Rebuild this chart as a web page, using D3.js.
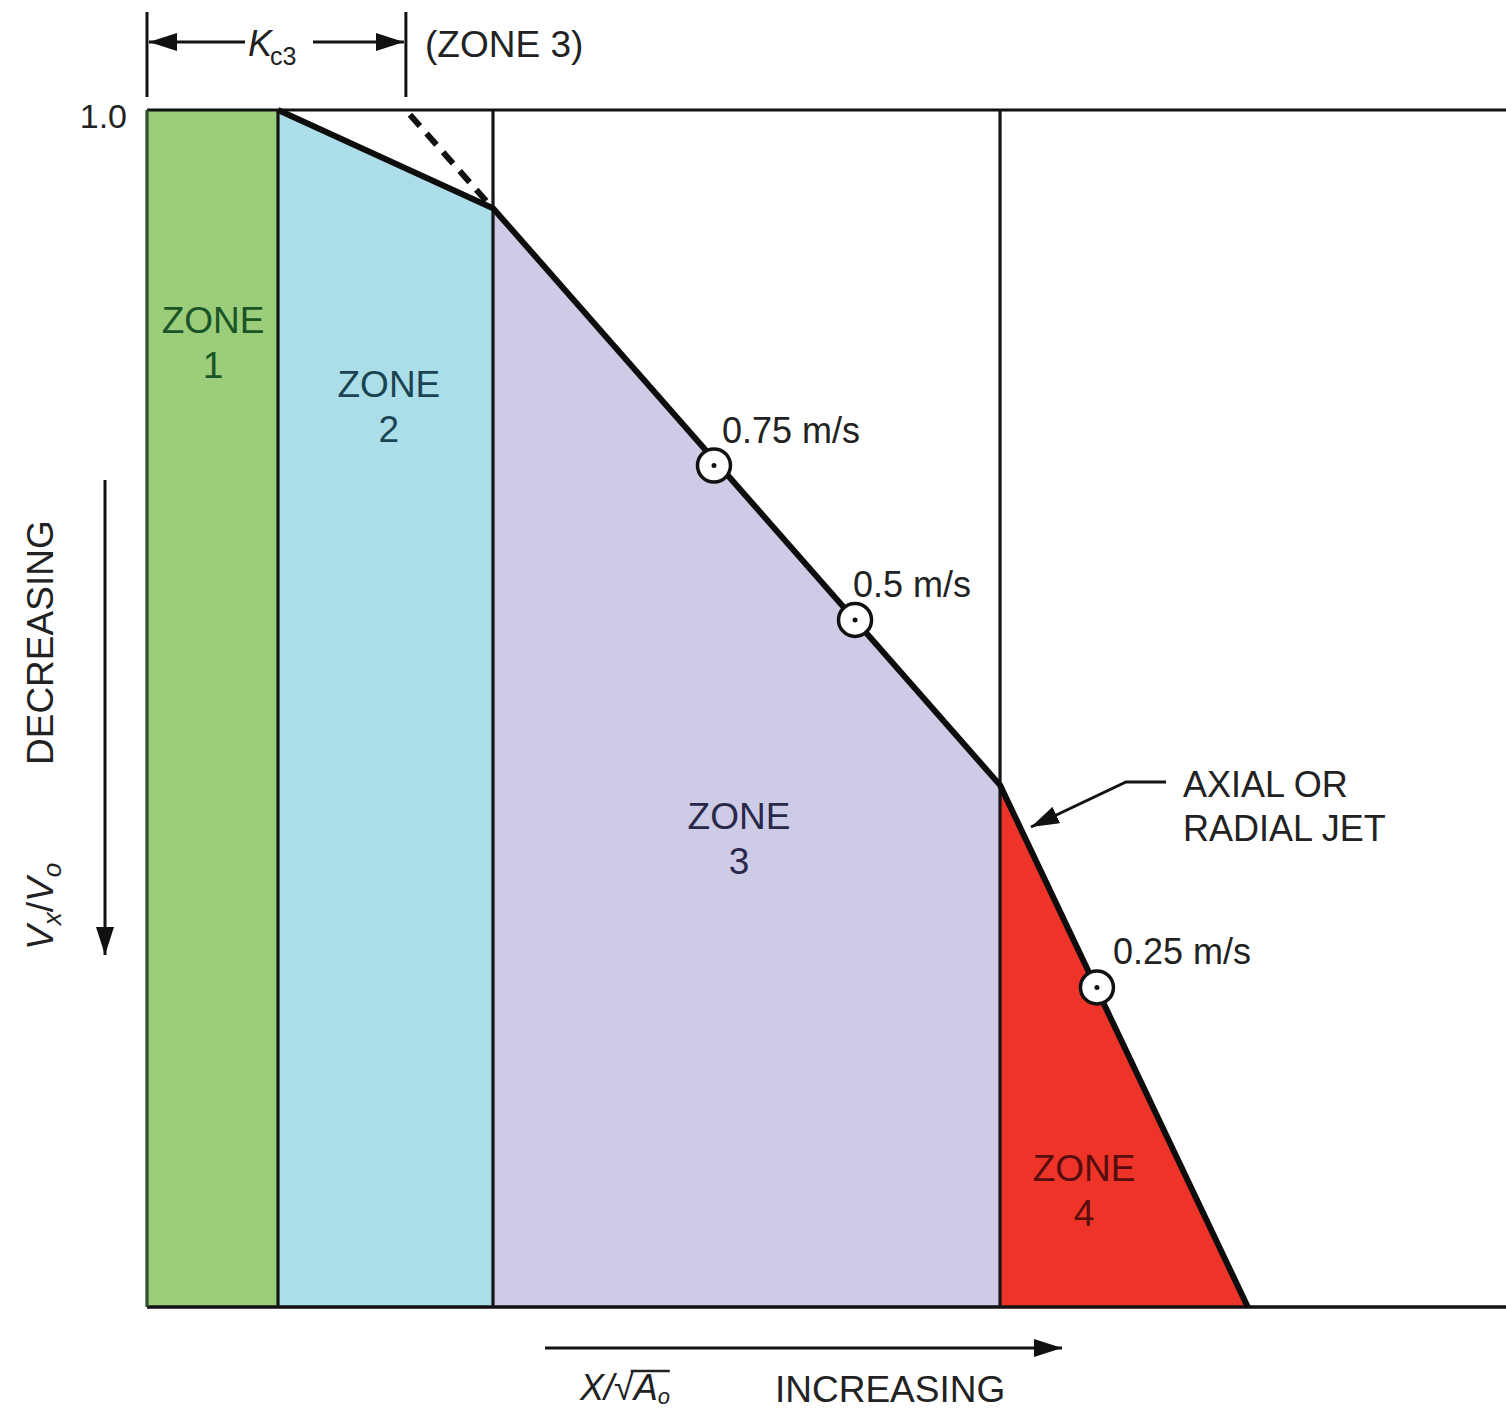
<!DOCTYPE html>
<html>
<head>
<meta charset="utf-8">
<script src="https://cdn.jsdelivr.net/npm/d3@7"></script>
<style>
  body { margin: 0; background: #fff; }
  svg text { font-family: "Liberation Sans", Arial, sans-serif; fill: #222; }
  .zone-label { font-size: 37px; text-anchor: middle; }
  .note { font-size: 36px; }
</style>
</head>
<body>
<svg width="1506" height="1415"></svg>
<script>
// zone boundaries along X/sqrt(Ao) (arbitrary units, 0..100)
const zoneEdges = [0, 9.64, 25.46, 62.77, 81.0];
const zoneNames = ['1', '2', '3', '4'];
const zoneFills = ['#9bcd7b', '#acdeea', '#cdcbe6', '#ee3428'];
const zoneText = ['#1a5528', '#1a4452', '#28284a', '#550d0d'];
// where the zone names sit (x, Vx/Vo of first line)
const zoneLabelX = [4.86, 17.8, 43.56, 68.95];
const zoneLabelY = [0.814, 0.760, 0.399, 0.105];

// centreline velocity decay Vx/Vo
const curveX = [9.64, 25.46, 62.77, 81.0];
const curveY = [1.0, 0.918, 0.436, 0];

// dashed extension of zone 3 line
const dashX = [19.35, 25.2];
const dashY = [0.996, 0.921];

// marked velocities
const markerX = [41.72, 52.1, 69.9];
const markerY = [0.703, 0.574, 0.267];
const markerLabels = ['0.75 m/s', '0.5 m/s', '0.25 m/s'];

const yTicks = [1.0];

const svg = d3.select('svg');
const margin = { left: 147, top: 110 };
const width = 1506 - margin.left;
const height = 1197;

const xScale = d3.scaleLinear().domain([0, 100]).range([0, width]);
const yScale = d3.scaleLinear().domain([0, 1]).range([height, 0]);
const topAt = d3.scaleLinear().domain(curveX).range(curveY).clamp(true);

const defs = svg.append('defs');
defs.append('marker')
  .attr('id', 'head')
  .attr('viewBox', '0 0 10 10')
  .attr('preserveAspectRatio', 'none')
  .attr('refX', 10).attr('refY', 5)
  .attr('markerWidth', 28).attr('markerHeight', 18)
  .attr('markerUnits', 'userSpaceOnUse')
  .attr('orient', 'auto-start-reverse')
  .append('path')
  .attr('d', 'M0,0 L10,5 L0,10 Z')
  .attr('fill', '#111');

const chart = svg.append('g')
  .attr('transform', `translate(${margin.left}, ${margin.top})`);

// zone fills
const zones = zoneNames.map((n, i) => ({ name: n, x0: zoneEdges[i], x1: zoneEdges[i + 1], i }));
chart.selectAll('.zone')
  .data(zones)
  .enter()
  .append('polygon')
  .attr('class', 'zone')
  .attr('fill', (d) => zoneFills[d.i])
  .attr('points', (d) => [
    [xScale(d.x0), yScale(0)],
    [xScale(d.x0), yScale(topAt(d.x0))],
    [xScale(d.x1), yScale(topAt(d.x1))],
    [xScale(d.x1), yScale(0)]
  ].map((p) => p.join(',')).join(' '));

// frame lines
chart.append('line')
  .attr('x1', 0).attr('x2', width)
  .attr('y1', yScale(1)).attr('y2', yScale(1))
  .attr('stroke', '#111').attr('stroke-width', 3);
chart.append('line')
  .attr('x1', 0).attr('x2', width)
  .attr('y1', yScale(0)).attr('y2', yScale(0))
  .attr('stroke', '#111').attr('stroke-width', 3.5);

// zone dividers
chart.selectAll('.divider')
  .data(zoneEdges.slice(0, 4))
  .enter()
  .append('line')
  .attr('class', 'divider')
  .attr('x1', (d) => xScale(d)).attr('x2', (d) => xScale(d))
  .attr('y1', yScale(1)).attr('y2', yScale(0))
  .attr('stroke', (d, i) => i === 0 ? '#2f4f2f' : '#151515')
  .attr('stroke-width', 3.2);

// y axis (only 1.0)
chart.append('g')
  .call(d3.axisLeft(yScale).tickValues(yTicks).tickSize(0).tickPadding(20).tickFormat(d3.format('.1f')))
  .call((g) => g.select('.domain').remove())
  .selectAll('text')
  .attr('font-size', 34)
  .attr('dy', '0.5em')
  .attr('font-family', '"Liberation Sans", Arial, sans-serif')
  .attr('fill', '#444');

// dashed extension
chart.append('line')
  .attr('x1', xScale(dashX[0])).attr('y1', yScale(dashY[0]))
  .attr('x2', xScale(dashX[1])).attr('y2', yScale(dashY[1]))
  .attr('stroke', '#111').attr('stroke-width', 6)
  .attr('stroke-dasharray', '15,10');

// main curve
const line = d3.line().x((d) => xScale(d[0])).y((d) => yScale(d[1]));
chart.append('path')
  .datum(curveX.map((x, i) => [x, curveY[i]]))
  .attr('d', line)
  .attr('fill', 'none')
  .attr('stroke', '#0d0d0d')
  .attr('stroke-width', 6)
  .attr('stroke-linejoin', 'round');

// zone labels
const zl = chart.selectAll('.zone-label')
  .data(zones)
  .enter()
  .append('text')
  .attr('class', 'zone-label')
  .attr('x', (d) => xScale(zoneLabelX[d.i]))
  .attr('y', (d) => yScale(zoneLabelY[d.i]))
  .style('fill', (d) => zoneText[d.i]);
zl.append('tspan').text('ZONE');
zl.append('tspan')
  .attr('x', (d) => xScale(zoneLabelX[d.i]))
  .attr('dy', 45)
  .text((d) => d.name);

// velocity markers
const labelDx = [8, -2, 16];
const marks = chart.selectAll('.mark')
  .data(markerX.map((x, i) => ({ x, y: markerY[i], label: markerLabels[i], i })))
  .enter()
  .append('g')
  .attr('class', 'mark')
  .attr('transform', (d) => `translate(${xScale(d.x)}, ${yScale(d.y)})`);
marks.append('circle').attr('r', 16.5).attr('fill', '#fff').attr('stroke', '#111').attr('stroke-width', 3.5);
marks.append('circle').attr('r', 2.5).attr('fill', '#111');
marks.append('text')
  .attr('class', 'note')
  .attr('x', (d) => labelDx[d.i]).attr('y', -23)
  .text((d) => d.label);

// annotation: axial or radial jet
svg.append('path')
  .attr('d', 'M1166,782 L1126,782 L1031,827')
  .attr('fill', 'none')
  .attr('stroke', '#111')
  .attr('stroke-width', 3)
  .attr('marker-end', 'url(#head)');
const ann = svg.append('text').attr('class', 'note').attr('x', 1183).attr('y', 797);
ann.append('tspan').text('AXIAL OR');
ann.append('tspan').attr('x', 1183).attr('dy', 44).text('RADIAL JET');

// Kc3 dimension at top
const dimX0 = xScale(0) + margin.left;
const dimX1 = xScale(19.05) + margin.left;
[dimX0, dimX1].forEach((x) => {
  svg.append('line').attr('x1', x).attr('x2', x).attr('y1', 12).attr('y2', 97)
    .attr('stroke', '#111').attr('stroke-width', 3);
});
svg.append('line').attr('x1', dimX0 + 2).attr('x2', 245).attr('y1', 42).attr('y2', 42)
  .attr('stroke', '#111').attr('stroke-width', 3).attr('marker-start', 'url(#head)');
svg.append('line').attr('x1', 313).attr('x2', dimX1 - 2).attr('y1', 42).attr('y2', 42)
  .attr('stroke', '#111').attr('stroke-width', 3).attr('marker-end', 'url(#head)');
const kc = svg.append('text').attr('x', 248).attr('y', 56).attr('font-size', 36);
kc.append('tspan').attr('font-style', 'italic').text('K');
kc.append('tspan').attr('font-size', 25).attr('dy', 9).attr('dx', -2).text('c3');
svg.append('text').attr('x', 425).attr('y', 57).attr('font-size', 37).text('(ZONE 3)');

// y label (rotated)
svg.append('text')
  .attr('transform', 'translate(53, 765) rotate(-90)')
  .attr('font-size', 37)
  .text('DECREASING');
const vy = svg.append('text')
  .attr('transform', 'translate(53, 950) rotate(-90)')
  .attr('font-size', 37);
vy.append('tspan').attr('font-style', 'italic').text('V');
vy.append('tspan').attr('font-style', 'italic').attr('font-size', 26).attr('dy', 8).text('x');
vy.append('tspan').attr('dy', -8).text('/');
vy.append('tspan').attr('font-style', 'italic').text('V');
vy.append('tspan').attr('font-style', 'italic').attr('font-size', 26).attr('dy', 8).text('o');
svg.append('line').attr('x1', 105).attr('x2', 105).attr('y1', 480).attr('y2', 955)
  .attr('stroke', '#111').attr('stroke-width', 3).attr('marker-end', 'url(#head)');

// x label
svg.append('line').attr('x1', 545).attr('x2', 1062).attr('y1', 1348).attr('y2', 1348)
  .attr('stroke', '#111').attr('stroke-width', 3).attr('marker-end', 'url(#head)');
const xl = svg.append('text').attr('x', 580).attr('y', 1400).attr('font-size', 36);
xl.append('tspan').attr('font-style', 'italic').text('X/');
xl.append('tspan').text('\u221A');
const aSpan = xl.append('tspan').attr('font-style', 'italic').text('A');
xl.append('tspan').attr('font-style', 'italic').attr('font-size', 22).attr('dy', 4).text('o');
const aStart = aSpan.node().getStartPositionOfChar(0).x;
const aEnd = aSpan.node().getEndPositionOfChar(0).x;
svg.append('line').attr('x1', aStart - 3).attr('x2', aEnd + 12).attr('y1', 1371).attr('y2', 1371)
  .attr('stroke', '#222').attr('stroke-width', 2.5);
svg.append('text').attr('x', 775).attr('y', 1402).attr('font-size', 37).text('INCREASING');
</script>
</body>
</html>
